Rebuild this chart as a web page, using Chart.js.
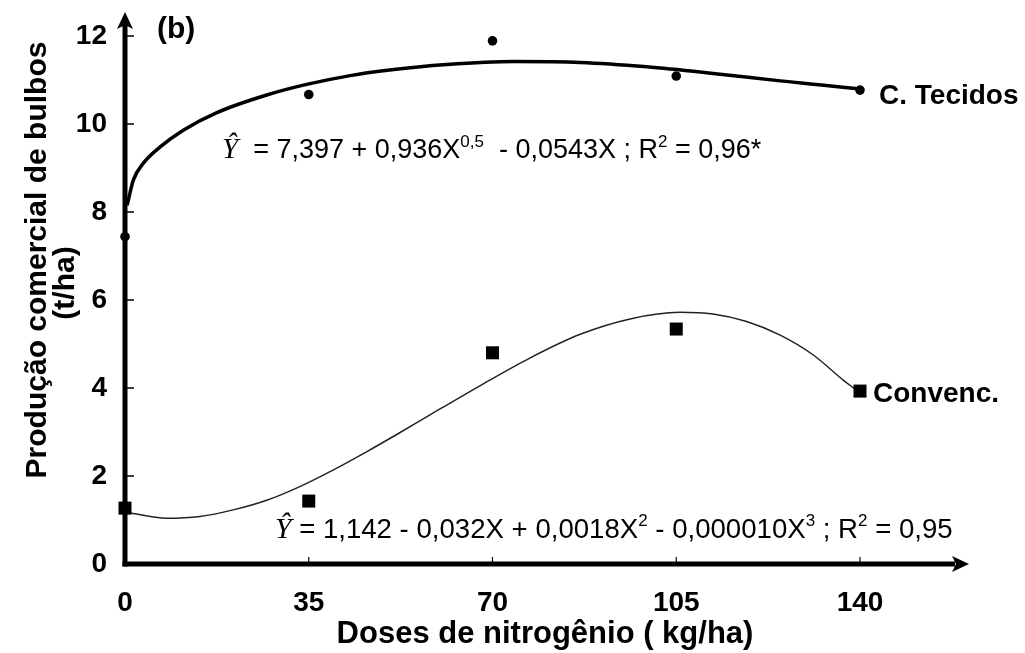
<!DOCTYPE html>
<html><head><meta charset="utf-8">
<script src="https://cdn.jsdelivr.net/npm/chart.js@4.4.1/dist/chart.umd.min.js"></script>
<style>html,body{margin:0;padding:0;background:#fff}#wrap{width:1025px;height:653px}</style>
</head><body><div id="wrap"><canvas id="c" width="1025" height="653"></canvas></div>
<script>
// ---- data ----
const doses = [0, 35, 70, 105, 140];
const tecidos = [7.44, 10.67, 11.89, 11.09, 10.77];
const convenc = [1.27, 1.43, 4.80, 5.34, 3.93];
// fitted curves, points
const fitTecidosX = [0.4, 1.6, 3.5, 6.7, 11.1, 17.5, 27, 34.6, 42.9, 50, 61.3, 74, 86.7, 99.4, 112, 124.8, 138.7, 140];
const fitTecidosY = [8.15, 8.73, 9.11, 9.48, 9.86, 10.26, 10.66, 10.90, 11.10, 11.22, 11.35, 11.42, 11.40, 11.30, 11.15, 10.98, 10.81, 10.79];
const fitConvencX = [0.5, 7.9, 14.3, 20.6, 27, 33.3, 39.7, 46, 52, 58.1, 67.6, 77.1, 86.7, 96.2, 105.7, 112, 118.4, 124.8, 131.1, 136.8, 139];
const fitConvencY = [1.17, 1.04, 1.08, 1.23, 1.45, 1.76, 2.14, 2.55, 2.96, 3.39, 4.05, 4.68, 5.22, 5.57, 5.72, 5.68, 5.51, 5.20, 4.75, 4.18, 3.98];
const xTickValues = [0, 35, 70, 105, 140];
const yTickValues = [0, 2, 4, 6, 8, 10, 12];
const seriesNames = ['C. Tecidos', 'Convenc.'];
const panelLabel = '(b)';
const xTitle = 'Doses de nitrogênio ( kg/ha)';
const yTitle = ['Produção comercial de bulbos', '(t/ha)'];
const eqTecidos = [['Ŷ','hat'],['  = 7,397 + 0,936X','n'],['0,5','sup'],['  - 0,0543X ; R','n'],['2','sup'],[' = 0,96*','n']];
const eqConvenc = [['Ŷ','hat'],[' = 1,142 - 0,032X + 0,0018X','n'],['2','sup'],[' - 0,000010X','n'],['3','sup'],[' ; R','n'],['2','sup'],[' = 0,95','n']];

const FONT = '"Liberation Sans", Arial, sans-serif';
const pts = (xs, ys) => xs.map((v, i) => ({x: v, y: ys[i]}));

function drawEq(ctx, segs, x, y, size) {
  let cx = x;
  for (const [t, k] of segs) {
    if (k === 'hat') {
      ctx.font = `italic ${size + 2}px "Liberation Serif", "DejaVu Serif", serif`;
      ctx.fillText(t, cx, y);
    } else if (k === 'sup') {
      ctx.font = `${Math.round(size * 0.62)}px ${FONT}`;
      ctx.fillText(t, cx, y - size * 0.42);
    } else {
      ctx.font = `${size}px ${FONT}`;
      ctx.fillText(t, cx, y);
    }
    cx += ctx.measureText(t).width;
  }
}

const decor = {
  id: 'decor',
  beforeDatasetsDraw(chart) {
    const {ctx, chartArea: a, scales: {x, y}} = chart;
    const x0 = x.getPixelForValue(0), y0 = y.getPixelForValue(0);
    ctx.save();
    ctx.fillStyle = '#000'; ctx.strokeStyle = '#000';
    ctx.lineWidth = 1.5;
    for (const v of yTickValues) {
      if (v === 0) continue;
      const py = y.getPixelForValue(v);
      ctx.beginPath(); ctx.moveTo(x0, py); ctx.lineTo(x0 + 9, py); ctx.stroke();
    }
    ctx.lineWidth = 1.2;
    for (const v of xTickValues) {
      if (v === 0) continue;
      const px = x.getPixelForValue(v);
      ctx.beginPath(); ctx.moveTo(px, y0); ctx.lineTo(px, y0 - 7); ctx.stroke();
    }
    ctx.lineWidth = 5;
    ctx.beginPath(); ctx.moveTo(x0, y0 + 2.5); ctx.lineTo(x0, a.top + 10); ctx.stroke();
    ctx.beginPath(); ctx.moveTo(x0 - 2.5, y0); ctx.lineTo(a.right - 10, y0); ctx.stroke();
    ctx.beginPath(); ctx.moveTo(x0, a.top - 2); ctx.lineTo(x0 - 8, a.top + 15); ctx.lineTo(x0, a.top + 11); ctx.lineTo(x0 + 8, a.top + 15); ctx.closePath(); ctx.fill();
    ctx.beginPath(); ctx.moveTo(a.right + 4, y0); ctx.lineTo(a.right - 13, y0 - 8); ctx.lineTo(a.right - 9, y0); ctx.lineTo(a.right - 13, y0 + 8); ctx.closePath(); ctx.fill();
    ctx.restore();
  },
  afterDatasetsDraw(chart) {
    const {ctx, scales: {x, y}} = chart;
    ctx.save();
    ctx.fillStyle = '#000';
    ctx.textBaseline = 'alphabetic';
    ctx.textAlign = 'left';
    ctx.font = `bold 30px ${FONT}`;
    ctx.fillText(panelLabel, 157, 38);
    ctx.font = `bold 28px ${FONT}`;
    ctx.fillText(seriesNames[0], x.getPixelForValue(140) + 19, y.getPixelForValue(tecidos[4]) + 14);
    ctx.fillText(seriesNames[1], x.getPixelForValue(140) + 13, y.getPixelForValue(convenc[4]) + 11);
    drawEq(ctx, eqTecidos, 222, 158, 27);
    drawEq(ctx, eqConvenc, 275, 538, 27.6);
    // y-axis title (two lines, rotated)
    ctx.font = `bold 30px ${FONT}`;
    ctx.textAlign = 'center';
    ctx.textBaseline = 'middle';
    ctx.save(); ctx.translate(38, 260); ctx.rotate(-Math.PI / 2); ctx.fillText(yTitle[0], 0, 0); ctx.restore();
    ctx.save(); ctx.translate(66, 283); ctx.rotate(-Math.PI / 2); ctx.fillText(yTitle[1], 0, 0); ctx.restore();
    ctx.restore();
  }
};

new Chart(document.getElementById('c'), {
  type: 'scatter',
  data: {
    datasets: [
      {label: seriesNames[0] + ' ajuste', data: pts(fitTecidosX, fitTecidosY), showLine: true, borderColor: '#000', borderWidth: 3.5, pointRadius: 0, cubicInterpolationMode: 'monotone', clip: false, order: 2},
      {label: seriesNames[1] + ' ajuste', data: pts(fitConvencX, fitConvencY), showLine: true, borderColor: '#222', borderWidth: 1.5, pointRadius: 0, cubicInterpolationMode: 'monotone', clip: false, order: 2},
      {label: seriesNames[0], data: pts(doses, tecidos), showLine: false, pointStyle: 'circle', pointRadius: 4.8, backgroundColor: '#000', borderColor: '#000', borderWidth: 0, clip: false, order: 1},
      {label: seriesNames[1], data: pts(doses, convenc), showLine: false, pointStyle: 'rect', pointRadius: 9.2, backgroundColor: '#000', borderColor: '#000', borderWidth: 0, clip: false, order: 1}
    ]
  },
  options: {
    responsive: false, animation: false, devicePixelRatio: 1,
    layout: {padding: {left: 0, right: 60, top: 14, bottom: 0}},
    plugins: {legend: {display: false}, tooltip: {enabled: false}},
    scales: {
      x: {
        type: 'linear', min: 0, max: 160,
        afterBuildTicks: s => { s.ticks = xTickValues.map(v => ({value: v})); },
        afterFit: s => { s.height = 89; s.paddingLeft = 0; s.paddingRight = 0; },
        grid: {display: false, drawTicks: false}, border: {display: false},
        ticks: {color: '#000', font: {family: FONT, size: 28, weight: 'bold'}, padding: 22, maxRotation: 0, autoSkip: false},
        title: {display: true, text: xTitle, color: '#000', font: {family: FONT, size: 31, weight: 'bold', lineHeight: 1.2}, padding: {top: 0, bottom: 0}}
      },
      y: {
        type: 'linear', min: 0, max: 12.5,
        afterBuildTicks: s => { s.ticks = yTickValues.map(v => ({value: v})); },
        afterFit: s => { s.width = 125; s.paddingTop = 0; s.paddingBottom = 0; },
        grid: {display: false, drawTicks: false}, border: {display: false},
        ticks: {color: '#000', font: {family: FONT, size: 28, weight: 'bold'}, padding: 18, autoSkip: false},
        title: {display: false}
      }
    }
  },
  plugins: [decor]
});
</script></body></html>
